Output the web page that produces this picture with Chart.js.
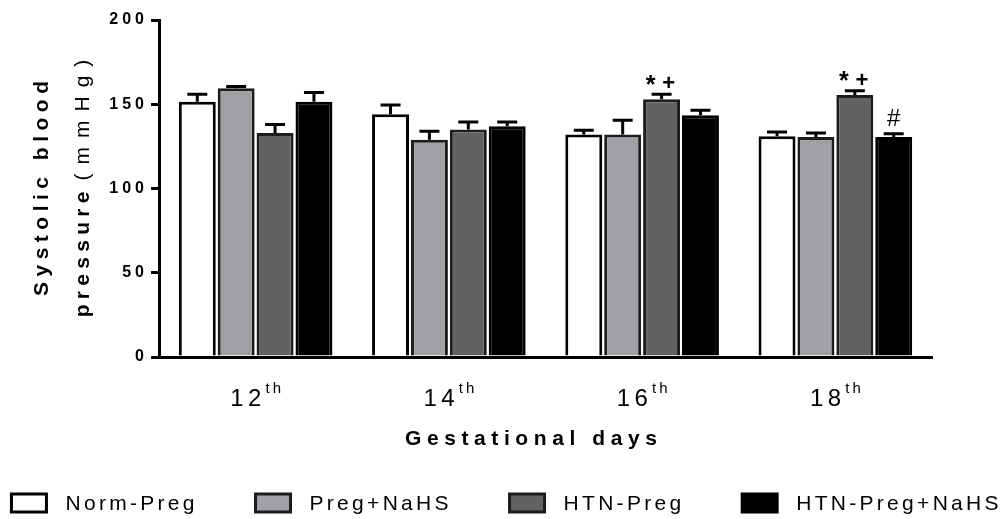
<!DOCTYPE html>
<html>
<head>
<meta charset="utf-8">
<script src="https://cdn.jsdelivr.net/npm/chart.js@4/dist/chart.umd.min.js"></script>
<style>
html,body{margin:0;padding:0;background:#fff;}
#wrap{width:1008px;height:519px;}
</style>
</head>
<body>
<div id="wrap"><canvas id="c" width="1008" height="519"></canvas></div>
<script>
// ---- data ----
const dayNumbers = ['12', '14', '16', '18'];
const daySuffix = 'th';
const xAxisTitle = 'Gestational days';
const yTitleLine1 = 'Systolic blood';
const yTitleLine2Bold = 'pressure';
const yTitleLine2Unit = '(mmHg)';
const seriesNames = ['Norm-Preg', 'Preg+NaHS', 'HTN-Preg', 'HTN-Preg+NaHS'];

const normPreg      = [151.5, 144, 132, 131];
const normPregErr   = [4.4, 5.5, 2.5, 2.5];
const pregNaHS      = [159.5, 129, 132, 130.5];
const pregNaHSErr   = [1, 5, 8.5, 2.5];
const htnPreg       = [133, 135, 153, 155.5];
const htnPregErr    = [5, 4.5, 3, 2.5];
const htnPregNaHS   = [151.5, 137, 143.5, 130.5];
const htnPregNaHSErr= [5.4, 2.5, 3, 2];

const normPregSig    = ['', '', '', ''];
const pregNaHSSig    = ['', '', '', ''];
const htnPregSig     = ['', '', '*+', '*+'];
const htnPregNaHSSig = ['', '', '', '#'];

const yTicks = [0, 50, 100, 150, 200];

// ---- styles ----
const FONT = '"Liberation Sans", Arial, Helvetica, sans-serif';
const fills   = ['#ffffff', '#a1a1a5', '#626262', '#000000'];
const borders = ['#000000', '#1c1c1c', '#1c1c1c', '#000000'];

const values = [normPreg, pregNaHS, htnPreg, htnPregNaHS];
const errs   = [normPregErr, pregNaHSErr, htnPregErr, htnPregNaHSErr];
const sigs   = [normPregSig, pregNaHSSig, htnPregSig, htnPregNaHSSig];

function spacedWidth(ctx, text, font, spacing) {
  ctx.font = font;
  ctx.letterSpacing = spacing + 'px';
  return ctx.measureText(text).width - spacing;
}
function drawSpaced(ctx, text, x, y, font, spacing, align) {
  const w = spacedWidth(ctx, text, font, spacing);
  let sx = x;
  if (align === 'center') sx = x - w / 2;
  else if (align === 'right') sx = x - w;
  ctx.textAlign = 'left';
  ctx.fillText(text, sx, y);
  return w;
}

const spacingPlugin = {
  id: 'spacing',
  beforeUpdate(chart) { chart.ctx.letterSpacing = '4px'; },
  beforeDraw(chart) { chart.ctx.letterSpacing = '4px'; }
};

const errorBarPlugin = {
  id: 'errorBars',
  afterDatasetsDraw(chart) {
    const ctx = chart.ctx;
    const yScale = chart.scales.y;
    ctx.save();
    ctx.strokeStyle = '#000';
    ctx.lineWidth = 3;
    values.forEach((vals, di) => {
      const meta = chart.getDatasetMeta(di);
      meta.data.forEach((el, i) => {
        const yTop = yScale.getPixelForValue(vals[i] + errs[di][i]);
        const x = el.x;
        ctx.beginPath();
        ctx.moveTo(x, el.y);
        ctx.lineTo(x, yTop);
        ctx.moveTo(x - 10, yTop);
        ctx.lineTo(x + 10, yTop);
        ctx.stroke();
        const s = sigs[di][i];
        if (s) {
          ctx.fillStyle = '#000';
          ctx.textBaseline = 'alphabetic';
          if (s === '#') {
            drawSpaced(ctx, '#', x, yTop - 8, '24px ' + FONT, 0, 'center');
          } else {
            drawSpaced(ctx, '*', x - 11, yTop - 1.5, 'bold 25px ' + FONT, 0, 'center');
            drawSpaced(ctx, '+', x + 7, yTop - 4, 'bold 22px ' + FONT, 0, 'center');
          }
        }
      });
    });
    ctx.restore();
  }
};

const textPlugin = {
  id: 'customText',
  afterDraw(chart) {
    const ctx = chart.ctx;
    const xs = chart.scales.x;
    ctx.save();
    ctx.fillStyle = '#000';
    ctx.textBaseline = 'alphabetic';
    // x tick labels with superscript
    dayNumbers.forEach((d, i) => {
      const cx = xs.getPixelForValue(i);
      const mf = '24px ' + FONT, sf = '15px ' + FONT;
      const w1 = spacedWidth(ctx, d, mf, 4.5);
      const w2 = spacedWidth(ctx, daySuffix, sf, 3);
      const gap = 4;
      const start = cx - (w1 + gap + w2) / 2;
      drawSpaced(ctx, d, start, 406, mf, 4.5, 'left');
      drawSpaced(ctx, daySuffix, start + w1 + gap, 393, sf, 3, 'left');
    });
    // x axis title
    drawSpaced(ctx, xAxisTitle, 531, 445, 'bold 21px ' + FONT, 5.6, 'center');
    // y axis title (rotated, two lines)
    const cy = (chart.chartArea.top + chart.chartArea.bottom) / 2;
    ctx.translate(0, cy);
    ctx.rotate(-Math.PI / 2);
    drawSpaced(ctx, yTitleLine1, 0, 48, 'bold 21px ' + FONT, 5.5, 'center');
    const bf = 'bold 21px ' + FONT, nf = '21px ' + FONT;
    const wa = spacedWidth(ctx, yTitleLine2Bold, bf, 5.3);
    const wb = spacedWidth(ctx, yTitleLine2Unit, nf, 9);
    const g = 11;
    const st = -(wa + g + wb) / 2;
    drawSpaced(ctx, yTitleLine2Bold, st, 89, bf, 5.3, 'left');
    drawSpaced(ctx, yTitleLine2Unit, st + wa + g, 89, nf, 9, 'left');
    ctx.restore();

    // legend
    ctx.save();
    ctx.fillStyle = '#000';
    ctx.textBaseline = 'middle';
    const lf = '21px ' + FONT, ls = 3.3;
    const boxW = 35, boxH = 18, boxGap = 19, itemGap = 61;
    const widths = seriesNames.map(n => boxW + boxGap + spacedWidth(ctx, n, lf, ls));
    const total = widths.reduce((a, b) => a + b, 0) + itemGap * (widths.length - 1);
    let x = (chart.width - total) / 2 + 1;
    const ly = 503;
    seriesNames.forEach((n, i) => {
      ctx.fillStyle = fills[i];
      ctx.fillRect(x, ly - boxH / 2, boxW, boxH);
      ctx.strokeStyle = borders[i];
      ctx.lineWidth = 3;
      ctx.strokeRect(x, ly - boxH / 2, boxW, boxH);
      ctx.fillStyle = '#000';
      drawSpaced(ctx, n, x + boxW + boxGap, ly + 1, lf, ls, 'left');
      x += widths[i] + itemGap;
    });
    ctx.restore();
  }
};

const chart = new Chart(document.getElementById('c'), {
  type: 'bar',
  data: {
    labels: dayNumbers,
    datasets: seriesNames.map((name, i) => ({
      label: name,
      data: values[i],
      backgroundColor: fills[i],
      borderColor: borders[i],
      borderWidth: 3,
      borderSkipped: 'start',
      categoryPercentage: 0.805,
      barPercentage: 0.95
    }))
  },
  options: {
    responsive: false,
    animation: false,
    devicePixelRatio: 1,
    layout: { padding: { left: 0, right: 76, top: 20, bottom: 0 } },
    plugins: {
      legend: { display: false },
      tooltip: { enabled: false },
      title: { display: false }
    },
    scales: {
      x: {
        z: 1,
        ticks: { display: false },
        grid: { display: false },
        border: { display: true, color: '#000', width: 3 },
        afterFit(s) { s.height = 162; }
      },
      y: {
        z: 1,
        min: 0,
        max: 200,
        afterBuildTicks(s) { s.ticks = yTicks.map(v => ({ value: v })); },
        ticks: {
          color: '#000',
          padding: 3,
          font: { family: FONT, size: 16, weight: 'bold' }
        },
        grid: {
          display: true,
          drawOnChartArea: false,
          drawTicks: true,
          tickLength: 8,
          lineWidth: 3,
          color: '#000'
        },
        border: { display: true, color: '#000', width: 3 },
        afterFit(s) { s.width = 159; }
      }
    }
  },
  plugins: [spacingPlugin, errorBarPlugin, textPlugin]
});
</script>
</body>
</html>
